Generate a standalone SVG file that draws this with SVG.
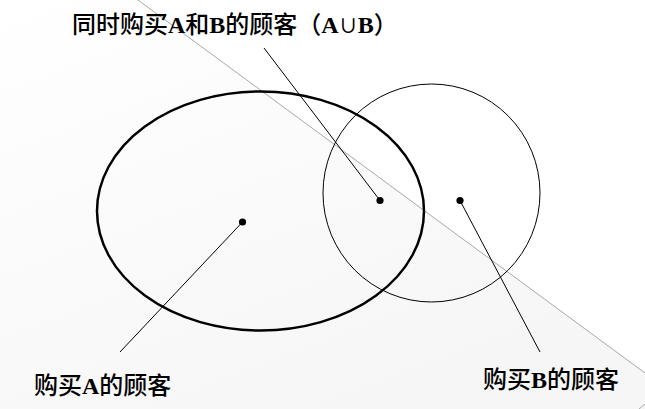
<svg xmlns="http://www.w3.org/2000/svg" width="645" height="409" viewBox="0 0 645 409">
  <defs>
    <linearGradient id="bg" x1="0" y1="0" x2="0.6" y2="1">
      <stop offset="0" stop-color="#ffffff"/>
      <stop offset="1" stop-color="#f6f6f6"/>
    </linearGradient>
    <style>
      .lbl { font-family: "Liberation Serif", "Noto Sans CJK SC", serif; font-size: 24px; font-weight: 500; fill: #000; }
      .lat { font-weight: bold; }
      .cup { font-size: 19px; }
      .lead { stroke: #000; stroke-width: 1; fill: none; }
      .dot { fill: #000; }
    </style>
  </defs>
  <rect x="0" y="0" width="645" height="409" fill="#ffffff"/>
  <polygon points="0,0 138,0 645,373 645,409 0,409" fill="url(#bg)"/>
  <line x1="138" y1="0" x2="645" y2="373" stroke="#a8a8a8" stroke-width="1"/>
  <line x1="639" y1="409" x2="645" y2="404" stroke="#a8a8a8" stroke-width="1"/>

  <g id="setA">
    <ellipse cx="260.5" cy="211" rx="163.5" ry="119.5" fill="none" stroke="#000" stroke-width="2.5"/>
  </g>
  <g id="setB">
    <ellipse cx="431.5" cy="193" rx="108.5" ry="109" fill="none" stroke="#000" stroke-width="1"/>
  </g>

  <g id="connectors">
    <line class="lead" x1="264" y1="48" x2="380" y2="200.5"/>
    <line class="lead" x1="242.5" y1="222" x2="120" y2="352"/>
    <line class="lead" x1="460" y1="200.5" x2="540" y2="352"/>
    <circle class="dot" cx="380" cy="200.5" r="3.6"/>
    <circle class="dot" cx="242.5" cy="222" r="3.6"/>
    <circle class="dot" cx="460" cy="200.5" r="3.6"/>
  </g>

  <g id="label-both">
    <text class="lbl" x="72" y="33">同时购买<tspan class="lat">A</tspan>和<tspan class="lat">B</tspan>的顾客（<tspan class="lat">A</tspan><tspan class="cup">∪</tspan><tspan class="lat">B</tspan>）</text>
  </g>
  <g id="label-a">
    <text class="lbl" x="34" y="394">购买<tspan class="lat">A</tspan>的顾客</text>
  </g>
  <g id="label-b">
    <text class="lbl" x="483" y="388">购买<tspan class="lat">B</tspan>的顾客</text>
  </g>
</svg>
